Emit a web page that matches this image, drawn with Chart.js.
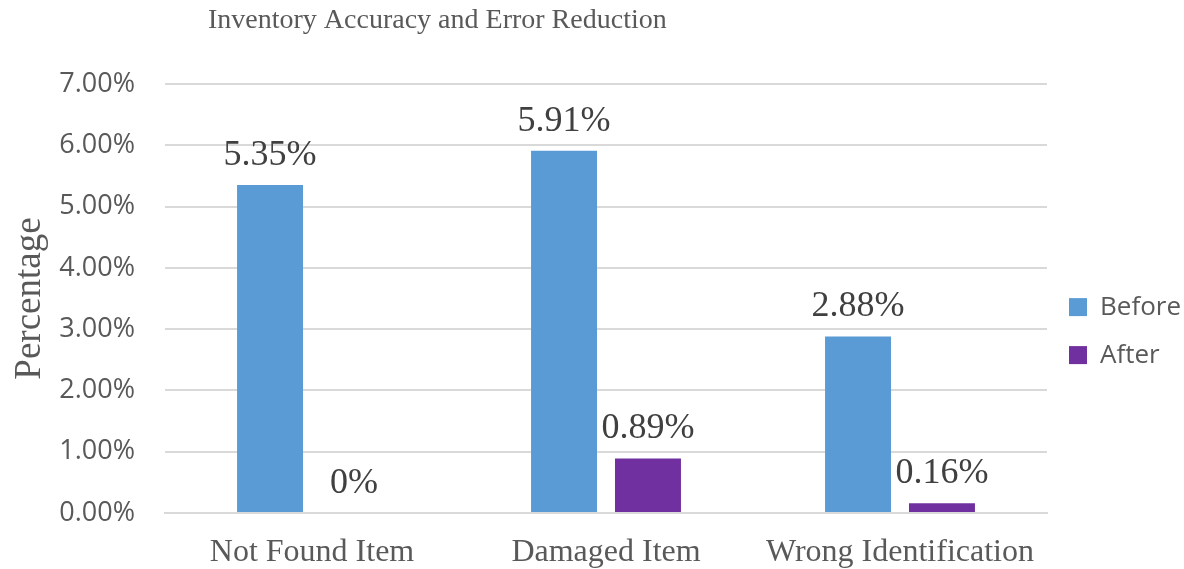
<!DOCTYPE html>
<html>
<head>
<meta charset="utf-8">
<script src="https://cdn.jsdelivr.net/npm/chart.js@4.4.1/dist/chart.umd.min.js"></script>
<style>
  html, body { margin: 0; padding: 0; background: #fff; }
  #wrap { width: 1184px; height: 569px; }
</style>
</head>
<body>
<div id="wrap"><canvas id="chart"></canvas></div>
<script>
const categories = ['Not Found Item', 'Damaged Item', 'Wrong Identification'];
const beforeValues = [5.35, 5.91, 2.88];
const afterValues = [0, 0.89, 0.16];
const beforeLabels = ['5.35%', '5.91%', '2.88%'];
const afterLabels = ['0%', '0.89%', '0.16%'];

const serif = '"Liberation Serif", "Times New Roman", serif';
const sans = '"Open Sans", "Liberation Sans", sans-serif';

// draws the value text above each bar and the chart title
const valueLabels = {
    id: 'valueLabels',
    afterDatasetsDraw(chart) {
        const ctx = chart.ctx;
        const texts = [beforeLabels, afterLabels];
        ctx.save();
        ctx.font = '36px ' + serif;
        ctx.fillStyle = '#404040';
        ctx.textAlign = 'center';
        ctx.textBaseline = 'alphabetic';
        chart.data.datasets.forEach((ds, i) => {
            const meta = chart.getDatasetMeta(i);
            meta.data.forEach((bar, j) => {
                ctx.fillText(texts[i][j], bar.x, bar.y - 20);
            });
        });
        ctx.font = '28px ' + serif;
        ctx.fillStyle = '#595959';
        ctx.textAlign = 'left';
        ctx.fillText('Inventory Accuracy and Error Reduction', chart.chartArea.left + 43, 28);
        ctx.restore();
    }
};

new Chart(document.getElementById('chart').getContext('2d'), {
    type: 'bar',
    data: {
        labels: categories,
        datasets: [
            {
                label: 'Before',
                data: beforeValues,
                backgroundColor: '#5b9bd5',
                categoryPercentage: 0.571,
                barPercentage: 0.786
            },
            {
                label: 'After',
                data: afterValues,
                backgroundColor: '#7030a0',
                categoryPercentage: 0.571,
                barPercentage: 0.786
            }
        ]
    },
    options: {
        responsive: true,
        maintainAspectRatio: false,
        animation: false,
        layout: {
            padding: { top: 84, right: 0, left: 4, bottom: 0 }
        },
        scales: {
            x: {
                grid: { display: false, drawTicks: false },
                border: { color: '#d9d9d9', width: 2 },
                ticks: {
                    color: '#595959',
                    font: { family: serif, size: 32 },
                    padding: 20,
                    maxRotation: 0,
                    autoSkip: false
                },
                afterFit: s => { s.height = 56; }
            },
            y: {
                min: 0,
                max: 7,
                grid: { color: '#d9d9d9', lineWidth: 2, drawTicks: false },
                border: { display: false },
                ticks: {
                    stepSize: 1,
                    color: '#595959',
                    font: { family: sans, size: 27 },
                    padding: 30,
                    callback: v => v.toFixed(2) + '%'
                },
                title: {
                    display: true,
                    text: 'Percentage',
                    color: '#595959',
                    font: { family: serif, size: 37 },
                    padding: { top: 4, bottom: 4 }
                },
                afterFit: s => { s.width = 161; }
            }
        },
        plugins: {
            title: { display: false },
            tooltip: { enabled: false },
            legend: {
                position: 'right',
                maxWidth: 137,
                title: { display: true, text: '', font: { size: 1 }, padding: 4 },
                labels: {
                    color: '#595959',
                    font: { family: sans, size: 26 },
                    boxWidth: 18,
                    boxHeight: 18,
                    padding: 22
                }
            }
        }
    },
    plugins: [valueLabels]
});
</script>
</body>
</html>
